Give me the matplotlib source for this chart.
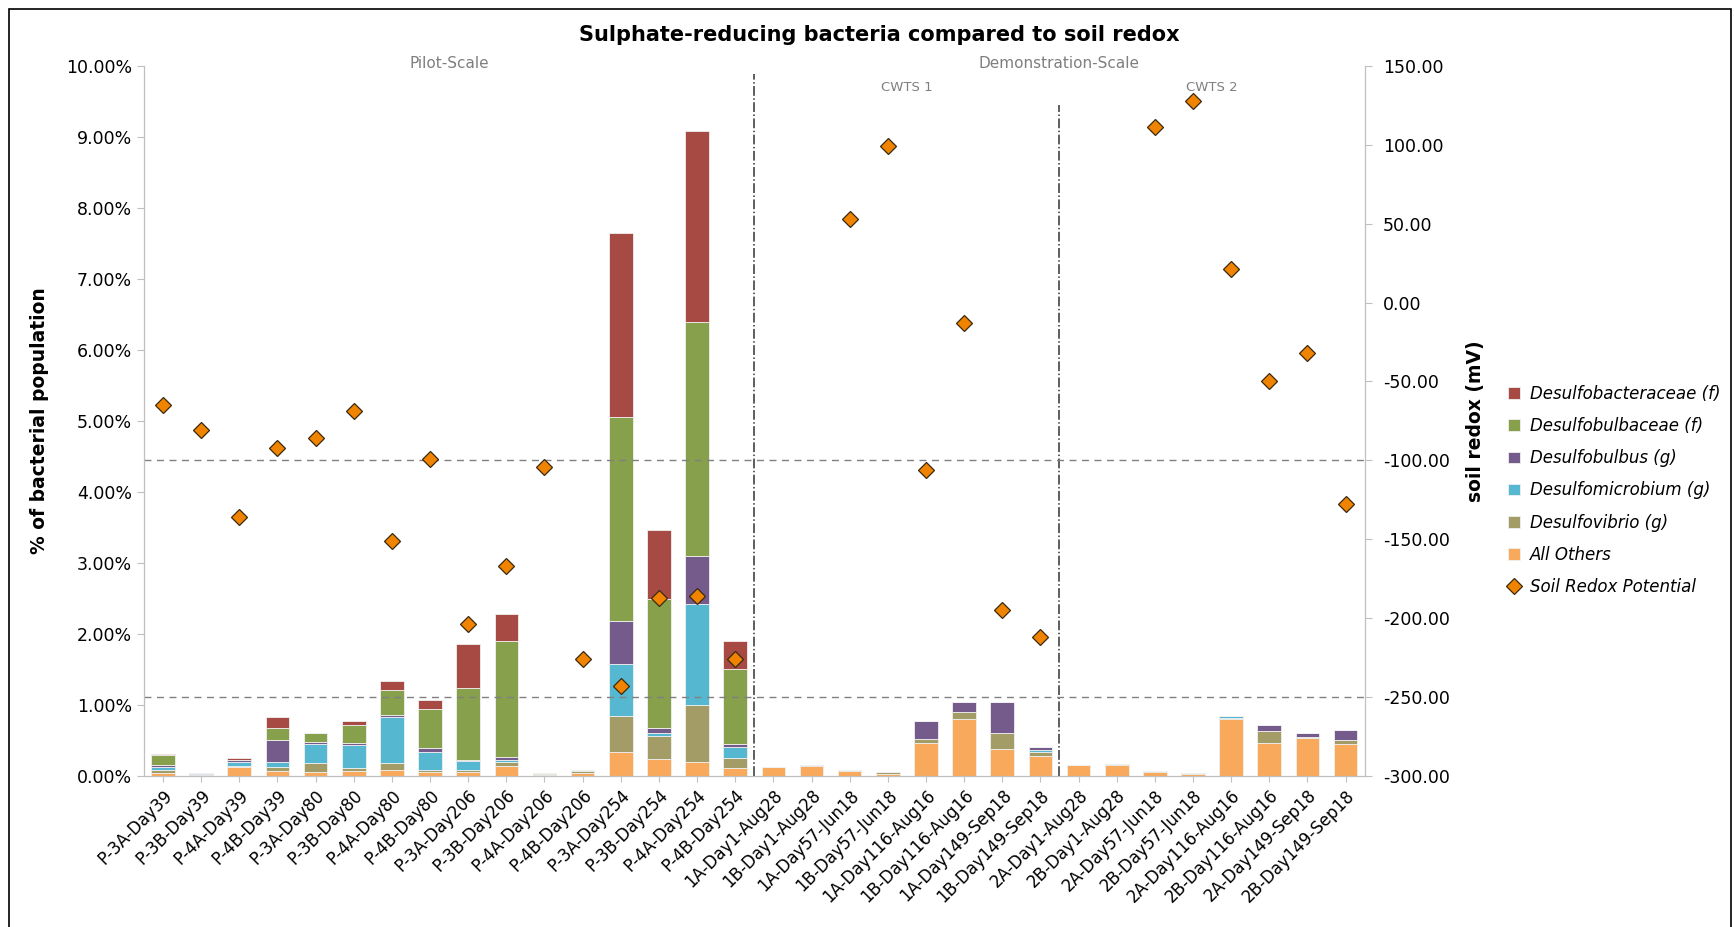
import matplotlib
matplotlib.use("Agg")
import matplotlib.pyplot as plt
import numpy as np
from matplotlib.patches import Rectangle

categories = ["P-3A-Day39", "P-3B-Day39", "P-4A-Day39", "P-4B-Day39",
              "P-3A-Day80", "P-3B-Day80", "P-4A-Day80", "P-4B-Day80",
              "P-3A-Day206", "P-3B-Day206", "P-4A-Day206", "P-4B-Day206",
              "P-3A-Day254", "P-3B-Day254", "P-4A-Day254", "P-4B-Day254",
              "1A-Day1-Aug28", "1B-Day1-Aug28", "1A-Day57-Jun18", "1B-Day57-Jun18",
              "1A-Day116-Aug16", "1B-Day116-Aug16", "1A-Day149-Sep18", "1B-Day149-Sep18",
              "2A-Day1-Aug28", "2B-Day1-Aug28", "2A-Day57-Jun18", "2B-Day57-Jun18",
              "2A-Day116-Aug16", "2B-Day116-Aug16", "2A-Day149-Sep18", "2B-Day149-Sep18"]

# values in % of bacterial population (stack order bottom -> top)
all_others = [0.04, 0.00, 0.12, 0.07, 0.06, 0.07, 0.08, 0.06, 0.06, 0.14, 0.01, 0.04,
              0.33, 0.24, 0.20, 0.11, 0.12, 0.14, 0.07, 0.03, 0.47, 0.80, 0.38, 0.28,
              0.15, 0.16, 0.06, 0.03, 0.80, 0.47, 0.54, 0.45]
desulfovibrio = [0.04, 0.01, 0.02, 0.05, 0.12, 0.04, 0.10, 0.03, 0.03, 0.05, 0.02, 0.03,
                 0.51, 0.32, 0.80, 0.14, 0.00, 0.01, 0.01, 0.02, 0.05, 0.10, 0.22, 0.06,
                 0.00, 0.01, 0.01, 0.01, 0.01, 0.16, 0.01, 0.06]
desulfomicrobium = [0.05, 0.01, 0.06, 0.08, 0.27, 0.32, 0.65, 0.25, 0.12, 0.04, 0.00, 0.00,
                    0.73, 0.04, 1.42, 0.16, 0.00, 0.00, 0.00, 0.00, 0.00, 0.00, 0.00, 0.02,
                    0.00, 0.00, 0.00, 0.00, 0.03, 0.00, 0.00, 0.00]
desulfobulbus = [0.03, 0.02, 0.03, 0.30, 0.03, 0.04, 0.03, 0.05, 0.02, 0.04, 0.00, 0.00,
                 0.61, 0.07, 0.67, 0.04, 0.00, 0.00, 0.00, 0.00, 0.26, 0.14, 0.44, 0.05,
                 0.00, 0.00, 0.00, 0.00, 0.00, 0.08, 0.05, 0.13]
desulfobulbaceae = [0.13, 0.00, 0.00, 0.18, 0.12, 0.25, 0.35, 0.55, 1.01, 1.63, 0.01, 0.02,
                    2.87, 1.82, 3.30, 1.05, 0.00, 0.00, 0.00, 0.00, 0.00, 0.00, 0.00, 0.00,
                    0.00, 0.00, 0.00, 0.00, 0.00, 0.00, 0.00, 0.00]
desulfobacteraceae = [0.02, 0.00, 0.02, 0.15, 0.01, 0.05, 0.12, 0.13, 0.62, 0.38, 0.00, 0.00,
                      2.60, 0.98, 2.69, 0.40, 0.00, 0.00, 0.00, 0.00, 0.00, 0.00, 0.00, 0.00,
                      0.00, 0.00, 0.00, 0.00, 0.00, 0.00, 0.00, 0.00]

# soil redox potential (mV); NaN = no measurement
redox = [-65, -81, -136, -92, -86, -69, -151, -99, -204, -167, -104, -226,
         -243, -187, -186, -226, np.nan, np.nan, 53, 99, -106, -13, -195, -212,
         np.nan, np.nan, 111, 128, 21, -50, -32, -128]

series = [
    ("All Others", all_others, "#F9A95B"),
    ("Desulfovibrio (g)", desulfovibrio, "#A39C67"),
    ("Desulfomicrobium (g)", desulfomicrobium, "#56B8D0"),
    ("Desulfobulbus (g)", desulfobulbus, "#745B8C"),
    ("Desulfobulbaceae (f)", desulfobulbaceae, "#86A04C"),
    ("Desulfobacteraceae (f)", desulfobacteraceae, "#A64A43"),
]

plt.rcParams['font.family'] = ['DejaVu Sans']

fig = plt.figure(figsize=(17.34, 9.27), dpi=100)
ax = fig.add_axes([0.083, 0.163, 0.704, 0.766])
ax2 = ax.twinx()

x = np.arange(len(categories))
bottom = np.zeros(len(categories))
bar_handles = {}
for name, vals, col in series:
    v = np.array(vals)
    h = ax.bar(x, v, bottom=bottom, width=0.62, color=col, edgecolor="#f0f0f0",
               linewidth=0.6, label=name, zorder=2)
    bar_handles[name] = h
    bottom += v

ax.set_xlim(-0.5, len(categories) - 0.5)
ax.set_ylim(0, 10)
ax.set_yticks(np.arange(0, 10.01, 1))
ax.set_yticklabels([f"{t:.2f}%" for t in np.arange(0, 10.01, 1)], fontsize=12.5)
ax.set_xticks(x)
ax.set_xticklabels(categories, rotation=45, ha="right", rotation_mode="anchor", fontsize=12)
ax.set_ylabel("% of bacterial population", fontsize=13.5, fontweight="bold", labelpad=12)

ax2.set_ylim(-300, 150)
rt = np.arange(-300, 150.1, 50)
ax2.set_yticks(rt)
ax2.set_yticklabels([f"{t:.2f}" for t in rt], fontsize=12.5)
ax2.set_ylabel("soil redox (mV)", fontsize=13.5, fontweight="bold", labelpad=12)

for a in (ax, ax2):
    a.spines["top"].set_visible(False)
    for s in ("left", "right", "bottom"):
        a.spines[s].set_color("#bfbfbf")
    a.tick_params(axis="both", colors="#bfbfbf", labelcolor="black", length=5)
ax.tick_params(axis="x", length=4)
ax2.tick_params(axis="y", pad=8)

ax2.axhline(-100, color="#808080", linestyle=(0, (5, 4)), linewidth=1.0, zorder=1)
ax2.axhline(-250, color="#808080", linestyle=(0, (5, 4)), linewidth=1.0, zorder=1)

pts, = ax2.plot(x, redox, linestyle="none", marker="D", markersize=8,
                markerfacecolor="#F08400", markeredgecolor="#3a2a10",
                markeredgewidth=0.9, label="Soil Redox Potential", zorder=5)

# section dividers
ax.axvline(15.5, ymin=0, ymax=0.988, color="#333333", linestyle="-.", linewidth=1.1, zorder=4)
ax.axvline(23.5, ymin=0, ymax=0.945, color="#333333", linestyle="-.", linewidth=1.1, zorder=4)

ax.text(7.5, 10.03, "Pilot-Scale", ha="center", va="center", fontsize=11, color="#7f7f7f")
ax.text(23.5, 10.03, "Demonstration-Scale", ha="center", va="center", fontsize=11, color="#7f7f7f")
ax.text(19.5, 9.70, "CWTS 1", ha="center", va="center", fontsize=9.5, color="#7f7f7f")
ax.text(27.5, 9.70, "CWTS 2", ha="center", va="center", fontsize=9.5, color="#7f7f7f")

fig.text(0.507, 0.962, "Sulphate-reducing bacteria compared to soil redox",
         ha="center", va="center", fontsize=15, fontweight="bold")

order = ["Desulfobacteraceae (f)", "Desulfobulbaceae (f)", "Desulfobulbus (g)",
         "Desulfomicrobium (g)", "Desulfovibrio (g)", "All Others"]
handles = [bar_handles[n] for n in order] + [pts]
labels = order + ["Soil Redox Potential"]
leg = fig.legend(handles, labels, loc="upper left", bbox_to_anchor=(0.866, 0.592),
                 frameon=False, fontsize=12, labelspacing=0.85, handlelength=0.7,
                 handleheight=0.7, handletextpad=0.6, borderaxespad=0)
for t in leg.get_texts():
    t.set_fontstyle("italic")

fig.add_artist(Rectangle((0.005, -0.02), 0.993, 1.01, transform=fig.transFigure,
                         fill=False, edgecolor="black", linewidth=1.2))

fig.savefig("out.png", dpi=100)
